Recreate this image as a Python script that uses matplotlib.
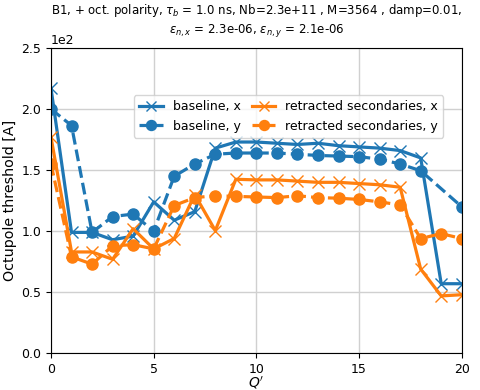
import matplotlib
matplotlib.use("Agg")
import matplotlib.pyplot as plt
import numpy as np

plt.rcParams['font.size'] = 9

q_all = list(range(21))
q_by = [q for q in range(21) if q != 19]

base_x = [217, 99, 99, 93, 96, 124, 109, 116, 168, 173, 173, 172, 171, 172, 170, 169, 168, 166, 160, 57, 57]
base_y = [200, 186.5, 99, 112, 114, 100, 145, 155, 163, 164, 164, 164, 163, 162, 161.5, 161, 159, 155, 149.5, 120]
retr_x = [177, 83, 83, 77, 102, 85.5, 94, 130, 100.5, 142.5, 142, 142, 141, 140, 140, 139, 138, 136, 69, 47, 48]
retr_y = [155, 79, 73, 88, 89, 85.5, 121, 127.5, 129, 128.5, 128, 127.5, 129, 127.5, 127, 126, 124, 121.5, 94, 98, 94]

title_line1 = "B1, + oct. polarity, $\\tau_b$ = 1.0 ns, Nb=2.3e+11 , M=3564 , damp=0.01,"
title_line2 = "$\\epsilon_{n,x}$ = 2.3e-06, $\\epsilon_{n,y}$ = 2.1e-06"

fig, ax = plt.subplots(figsize=(4.81, 3.9), dpi=100)
ax.plot(q_all, base_x, color='C0', ls='-', marker='x', ms=8, lw=2.3, label='baseline, x')
ax.plot(q_by, base_y, color='C0', ls='--', marker='o', ms=8, lw=2.3, label='baseline, y')
ax.plot(q_all, retr_x, color='C1', ls='-', marker='x', ms=8, lw=2.3, label='retracted secondaries, x')
ax.plot(q_all, retr_y, color='C1', ls='--', marker='o', ms=8, lw=2.3, label='retracted secondaries, y')

ax.set_xlim(0, 20)
ax.set_ylim(0, 250)
ax.set_xticks([0, 5, 10, 15, 20])
ax.set_yticks([0, 50, 100, 150, 200, 250])
ax.ticklabel_format(axis='y', style='sci', scilimits=(0, 0))
ax.grid(True, color='#d0d0d0', lw=1)
ax.set_xlabel("$Q'$", labelpad=-1, fontsize=10)
ax.set_ylabel("Octupole threshold [A]", fontsize=10.3, labelpad=3)
ax.set_title(title_line2, fontsize=8.5, y=1.0, pad=10.5)
fig.text(0.533, 0.972, title_line1, fontsize=8.5, ha='center', va='center')
ax.legend(ncol=2, loc='upper right', bbox_to_anchor=(0.97, 0.865), fontsize=9,
          handlelength=1.9, columnspacing=0.9, markerscale=0.9)
fig.subplots_adjust(left=0.106, right=0.96, top=0.877, bottom=0.094)
fig.savefig("out.png", dpi=100)
